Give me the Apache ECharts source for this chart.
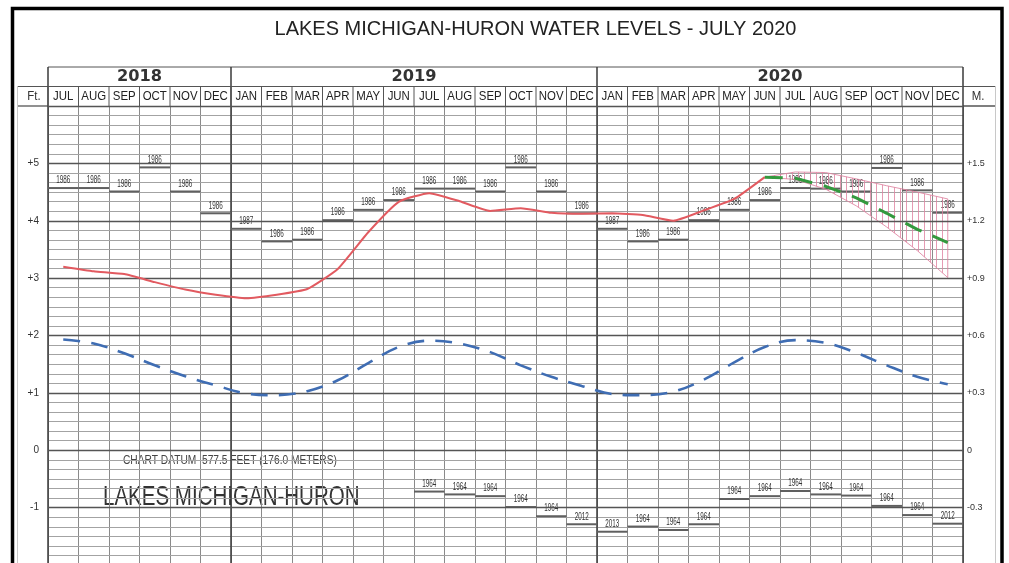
<!DOCTYPE html>
<html><head><meta charset="utf-8">
<script src="https://cdn.jsdelivr.net/npm/echarts@6/dist/echarts.min.js"></script>
<style>html,body{margin:0;padding:0;background:#fff;} #c{width:1009px;height:563px;}</style>
</head><body><div id="c"></div>
<script>
// ---------- DATA ----------
const months = ['JUL','AUG','SEP','OCT','NOV','DEC',
  'JAN','FEB','MAR','APR','MAY','JUN','JUL','AUG','SEP','OCT','NOV','DEC',
  'JAN','FEB','MAR','APR','MAY','JUN','JUL','AUG','SEP','OCT','NOV','DEC'];
const yearLabels = ['2018','2019','2020'];
const yearStart = [0, 6, 18];
const yearEnd = [6, 18, 30];

// monthly mean levels, feet above chart datum (JUL 2018 - JUN 2020)
const actualLevels = [3.20,3.12,3.07,2.93,2.80,2.71,
  2.65,2.71,2.81,3.16,3.80,4.33,4.48,4.34,4.17,4.22,4.14,4.12,
  4.13,4.10,4.00,4.18,4.38,4.76];
// forecast (JUN - DEC 2020)
const forecastLevels = [null,null,null,null,null,null,null,null,null,null,null,null,
  null,null,null,null,null,null,null,null,null,null,null,
  4.76,4.74,4.60,4.40,4.13,3.85,3.62];
const forecastHigh = [null,null,null,null,null,null,null,null,null,null,null,null,
  null,null,null,null,null,null,null,null,null,null,null,
  4.76,4.85,4.84,4.73,4.61,4.50,4.38];
const forecastLow = [null,null,null,null,null,null,null,null,null,null,null,null,
  null,null,null,null,null,null,null,null,null,null,null,
  4.76,4.72,4.55,4.26,3.89,3.48,3.01];
// long term average
const longTermAvg = [1.93,1.86,1.69,1.48,1.29,1.13,
  0.99,0.96,1.03,1.22,1.52,1.80,1.91,1.86,1.71,1.48,1.28,1.12,
  0.98,0.96,1.02,1.23,1.53,1.80,1.92,1.87,1.70,1.48,1.28,1.15];
// record highs
const recordHigh = [4.57,4.57,4.51,4.93,4.51,4.13,
  3.86,3.64,3.67,4.01,4.19,4.36,4.56,4.56,4.51,4.93,4.51,4.13,
  3.86,3.64,3.67,4.01,4.19,4.36,4.57,4.56,4.51,4.92,4.53,4.14];
const recordHighYear = ['1986','1986','1986','1986','1986','1986',
  '1987','1986','1986','1986','1986','1986','1986','1986','1986','1986','1986','1986',
  '1987','1986','1986','1986','1986','1986','1986','1986','1986','1986','1986','1986'];
// record lows
const recordLow = [null,null,null,null,null,null,null,null,null,null,null,null,
  -0.72,-0.77,-0.80,-0.99,-1.15,-1.29,
  -1.42,-1.33,-1.39,-1.29,-0.85,-0.80,-0.71,-0.77,-0.79,-0.97,-1.13,-1.28];
const recordLowYear = [null,null,null,null,null,null,null,null,null,null,null,null,
  '1964','1964','1964','1964','1964','2012',
  '2013','1964','1964','1964','1964','1964','1964','1964','1964','1964','1964','2012'];
// axis labels
const feetLabels = {'-1':'-1','0':'0','1':'+1','2':'+2','3':'+3','4':'+4','5':'+5'};
const meterLabels = {'-1':'-0.3','0':'0','1':'+0.3','2':'+0.6','3':'+0.9','4':'+1.2','5':'+1.5'};

// ---------- LAYOUT ----------
const Y_MIN = -2, Y_MAX = 6;
const MONTH_ROW_H = 20, YEAR_ROW_H = 19;
const FONT = '"Liberation Sans", Arial, sans-serif';

const hatch = document.createElement('canvas');
hatch.width = 6; hatch.height = 4;
(function(){ const c = hatch.getContext('2d'); c.fillStyle = 'rgba(222,130,160,0.8)'; c.fillRect(0,0,1,4); })();

function seg(x1,y1,x2,y2,stroke,w){ return {type:'line', shape:{x1,y1,x2,y2}, style:{stroke, lineWidth:w}}; }

const chart = echarts.init(document.getElementById('c'));
chart.setOption({
  animation: false,
  backgroundColor: '#fff',
  grid: {left: 48, top: 106, width: 915, height: 459, outerBoundsMode: 'none', containLabel: false},
  xAxis: [{type:'value', min:0, max:30, interval:1,
    axisLine:{show:false}, axisTick:{show:false}, axisLabel:{show:false},
    splitLine:{show:true, lineStyle:{color:'#8a8a8a', width:1}}}],
  yAxis: [
    {type:'value', min:Y_MIN, max:Y_MAX, interval:1, position:'left', z:3,
      axisLine:{show:false}, axisTick:{show:false},
      axisLabel:{margin:9, fontSize:10, color:'#333', fontFamily:FONT,
        formatter: v => feetLabels[String(v)] || ''},
      splitLine:{show:true, lineStyle:{color:'#555', width:1.3}}},
    {type:'value', min:Y_MIN, max:Y_MAX, interval:1, position:'right',
      axisLine:{show:false}, axisTick:{show:false},
      axisLabel:{margin:4, fontSize:9, color:'#333', fontFamily:FONT,
        formatter: v => meterLabels[String(v)] || ''},
      splitLine:{show:false}},
    {type:'value', min:Y_MIN*6, max:Y_MAX*6, interval:1, position:'left', z:1,
      axisLine:{show:false}, axisTick:{show:false}, axisLabel:{show:false},
      splitLine:{show:true, lineStyle:{color:'#a3a3a3', width:1}}}
  ],
  graphic: [
    {type:'rect', shape:{x:12.5, y:8.5, width:989.5, height:600}, style:{fill:null, stroke:'#000', lineWidth:3.5}, z:100},
    {type:'text', x:535.5, y:29.5, style:{text:'LAKES MICHIGAN-HURON WATER LEVELS - JULY 2020', font:'20px '+FONT, fill:'#222', align:'center', verticalAlign:'middle'}},
    {type:'line', shape:{x1:17, y1:86.5, x2:48, y2:86.5}, style:{stroke:'#555', lineWidth:1}},
    {type:'line', shape:{x1:963, y1:86.5, x2:996, y2:86.5}, style:{stroke:'#555', lineWidth:1}},
    {type:'line', shape:{x1:17, y1:106, x2:48, y2:106}, style:{stroke:'#555', lineWidth:1.3}},
    {type:'line', shape:{x1:963, y1:106, x2:996, y2:106}, style:{stroke:'#555', lineWidth:1.3}},
    {type:'line', shape:{x1:17.5, y1:86, x2:17.5, y2:600}, style:{stroke:'#c8c8c8', lineWidth:1}},
    {type:'line', shape:{x1:995.5, y1:86, x2:995.5, y2:600}, style:{stroke:'#c8c8c8', lineWidth:1}},
    {type:'text', x:34, y:96, scaleX:0.88, style:{text:'Ft.', font:'13px '+FONT, fill:'#333', align:'center', verticalAlign:'middle'}},
    {type:'text', x:978, y:96, scaleX:0.88, style:{text:'M.', font:'13px '+FONT, fill:'#333', align:'center', verticalAlign:'middle'}},
    {type:'text', x:123, y:461, scaleX:0.85, style:{text:'CHART DATUM  577.5 FEET (176.0 METERS)', font:'12px '+FONT, fill:'#444', align:'left', verticalAlign:'middle'}},
    {type:'text', x:103, y:498, scaleX:0.76, style:{text:'LAKES MICHIGAN-HURON', font:'27px '+FONT, fill:'#333', align:'left', verticalAlign:'middle'}}
  ],
  series: [
    // year header boxes and year divider lines
    {type:'custom', clip:false, silent:true, data: yearLabels.map((y,k)=>[yearStart[k], yearEnd[k]]),
      renderItem(params, api){
        const k = params.dataIndex;
        const p0 = api.coord([api.value(0), Y_MAX]);
        const p1 = api.coord([api.value(1), Y_MAX]);
        const bottom = api.coord([api.value(0), Y_MIN])[1];
        const top = p0[1] - MONTH_ROW_H - YEAR_ROW_H;
        const ch = [
          seg(p0[0], top, p1[0], top, '#555', 1),
          seg(p0[0], top, p0[0], bottom, '#3a3a3a', 1.5),
          {type:'text', x:(p0[0]+p1[0])/2, y: top + YEAR_ROW_H/2 + 0.5, scaleX:1.08,
            style:{text: yearLabels[k], font:'bold 15px "DejaVu Sans", sans-serif', fill:'#333', align:'center', verticalAlign:'middle'}}
        ];
        if (k === yearLabels.length - 1) ch.push(seg(p1[0], top, p1[0], bottom, '#3a3a3a', 1.5));
        return {type:'group', children: ch};
      }},
    // month header cells
    {type:'custom', clip:false, silent:true, data: months.map((m,i)=>[i]),
      renderItem(params, api){
        const i = api.value(0);
        const p0 = api.coord([i, Y_MAX]);
        const p1 = api.coord([i+1, Y_MAX]);
        const top = p0[1] - MONTH_ROW_H;
        return {type:'group', children:[
          seg(p0[0], top, p0[0], p0[1], '#555', 1),
          seg(p0[0], top + 0.5, p1[0], top + 0.5, '#555', 1),
          {type:'text', x:(p0[0]+p1[0])/2, y: top + MONTH_ROW_H/2 + 0.5, scaleX:0.88,
            style:{text: months[i], font:'13px '+FONT, fill:'#222', align:'center', verticalAlign:'middle'}}
        ]};
      }},
    // record highs
    {type:'custom', clip:false, silent:true, data: recordHigh.map((v,i)=>[i, v]),
      renderItem(params, api){
        const i = api.value(0), v = api.value(1);
        const a = api.coord([i, v]), b = api.coord([i+1, v]);
        return {type:'group', children:[
          seg(a[0], a[1], b[0], b[1], '#606060', 2),
          {type:'text', x:(a[0]+b[0])/2, y:a[1]-7.5, scaleX:0.63,
            style:{text: recordHighYear[i], font:'10px '+FONT, fill:'#333', align:'center', verticalAlign:'middle'}}
        ]};
      }},
    // record lows
    {type:'custom', clip:false, silent:true,
      data: recordLow.map((v,i)=>[i, v]).filter(d => d[1] !== null),
      renderItem(params, api){
        const i = api.value(0), v = api.value(1);
        const a = api.coord([i, v]), b = api.coord([i+1, v]);
        return {type:'group', children:[
          seg(a[0], a[1], b[0], b[1], '#606060', 2),
          {type:'text', x:(a[0]+b[0])/2, y:a[1]-7.5, scaleX:0.63,
            style:{text: recordLowYear[i], font:'10px '+FONT, fill:'#333', align:'center', verticalAlign:'middle'}}
        ]};
      }},
    // forecast range band (hatched)
    {type:'custom', clip:false, silent:true, data:[[0]],
      renderItem(params, api){
        const pts = [];
        for (let i = 0; i < 30; i++) if (forecastHigh[i] !== null) pts.push(api.coord([i+0.5, forecastHigh[i]]));
        for (let i = 29; i >= 0; i--) if (forecastLow[i] !== null) pts.push(api.coord([i+0.5, forecastLow[i]]));
        return {type:'polygon', shape:{points: pts},
          style:{fill:{image: hatch, repeat:'repeat'}, stroke:'rgba(222,130,160,0.85)', lineWidth:1}};
      }},
    // long term average
    {type:'line', name:'Long term average', symbol:'none', smooth:0.35,
      data: longTermAvg.map((v,i)=>[i+0.5, v]),
      lineStyle:{color:'#3f6db3', width:2.6, type:[17,11]}},
    // recorded levels
    {type:'line', name:'Recorded', symbol:'none', smooth:0.15,
      data: actualLevels.map((v,i)=>[i+0.5, v]),
      lineStyle:{color:'#e25a60', width:2}},
    // forecast
    {type:'line', name:'Forecast', symbol:'none',
      data: forecastLevels.map((v,i)=>[i+0.5, v]).filter(d => d[1] !== null),
      lineStyle:{color:'#34993e', width:3, type:[18,12]}}
  ]
});
</script>
</body></html>
